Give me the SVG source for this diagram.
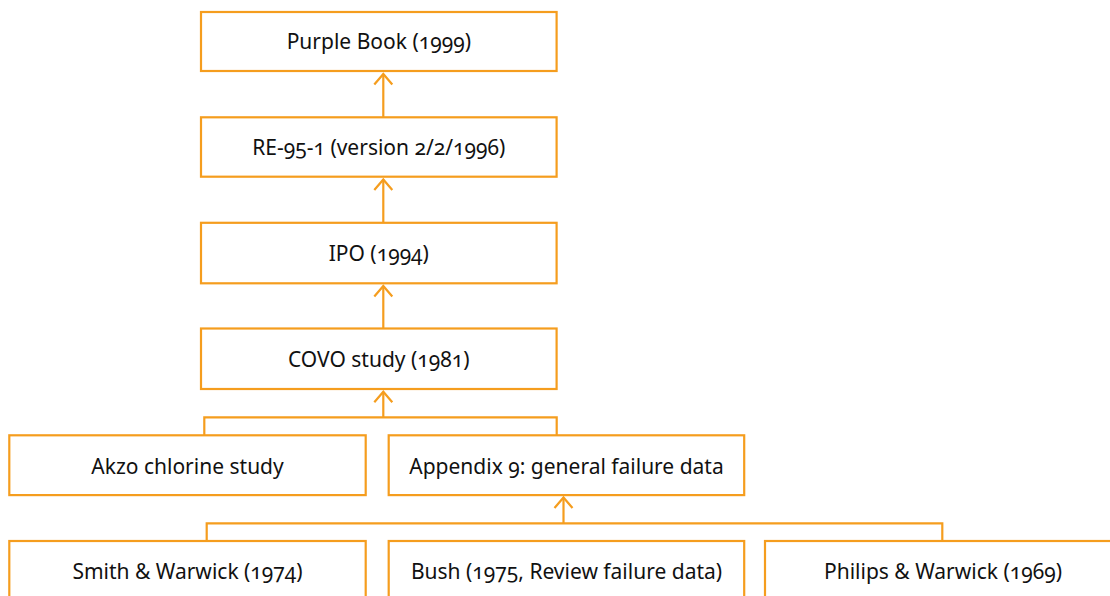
<svg xmlns="http://www.w3.org/2000/svg" width="1110" height="596" viewBox="0 0 1110 596">
<style>
.box{fill:#fff;stroke:#F59D1E;stroke-width:2.2}
.lbl{font-family:"Noto Sans","Open Sans",sans-serif;font-size:21px;fill:#111;text-anchor:middle;font-variant-numeric:oldstyle-nums}
.con{fill:none;stroke:#F59D1E;stroke-width:2.2}
</style>
<defs>
<marker id="ah" markerUnits="userSpaceOnUse" markerWidth="24" markerHeight="24" refX="0" refY="0" orient="auto" viewBox="-12 -12 24 24" overflow="visible">
<path d="M-10.5,-9 L0,0 L-10.5,9" fill="none" stroke="#F59D1E" stroke-width="2.2"/>
</marker>
</defs>
<rect width="1110" height="596" fill="#fff"/>
<g id="connectors">
<path class="con" d="M383.3,117.3 V74" marker-end="url(#ah)"/>
<path class="con" d="M383.3,222.8 V179.5" marker-end="url(#ah)"/>
<path class="con" d="M383.3,328.5 V286" marker-end="url(#ah)"/>
<path class="con" d="M204.3,435.3 V417.3 H556.7 V435.3"/>
<path class="con" d="M383.3,417.3 V391.7" marker-end="url(#ah)"/>
<path class="con" d="M206.7,541 V523.3 H942.3 V541"/>
<path class="con" d="M563.5,523.3 V497.5" marker-end="url(#ah)"/>
</g>
<g id="purple-book">
<rect class="box" x="201" y="12" width="355.6" height="59"/>
<text class="lbl" x="378.8" y="49.3">Purple Book (1999)</text>
</g>
<g id="re-95-1">
<rect class="box" x="201" y="117.3" width="355.6" height="59.4"/>
<text class="lbl" x="378.8" y="154.8">RE-95-1 (version 2/2/1996)</text>
</g>
<g id="ipo">
<rect class="box" x="201" y="222.8" width="355.6" height="60.5"/>
<text class="lbl" x="378.8" y="261.2">IPO (1994)</text>
</g>
<g id="covo">
<rect class="box" x="201" y="328.5" width="355.6" height="60.5"/>
<text class="lbl" x="378.8" y="366.7">COVO study (1981)</text>
</g>
<g id="akzo">
<rect class="box" x="9.3" y="435.3" width="356.4" height="59.8"/>
<text class="lbl" x="187.5" y="474">Akzo chlorine study</text>
</g>
<g id="appendix9">
<rect class="box" x="388.7" y="435.3" width="355.5" height="59.8"/>
<text class="lbl" x="566.5" y="474">Appendix 9: general failure data</text>
</g>
<g id="smith-warwick">
<rect class="box" x="9.3" y="541" width="356.4" height="60"/>
<text class="lbl" x="187.5" y="578.8">Smith &amp; Warwick (1974)</text>
</g>
<g id="bush">
<rect class="box" x="388.7" y="541" width="355.5" height="60"/>
<text class="lbl" x="566.5" y="578.8">Bush (1975, Review failure data)</text>
</g>
<g id="philips-warwick">
<rect class="box" x="765" y="541" width="356" height="60"/>
<text class="lbl" x="943" y="578.8">Philips &amp; Warwick (1969)</text>
</g>
</svg>
